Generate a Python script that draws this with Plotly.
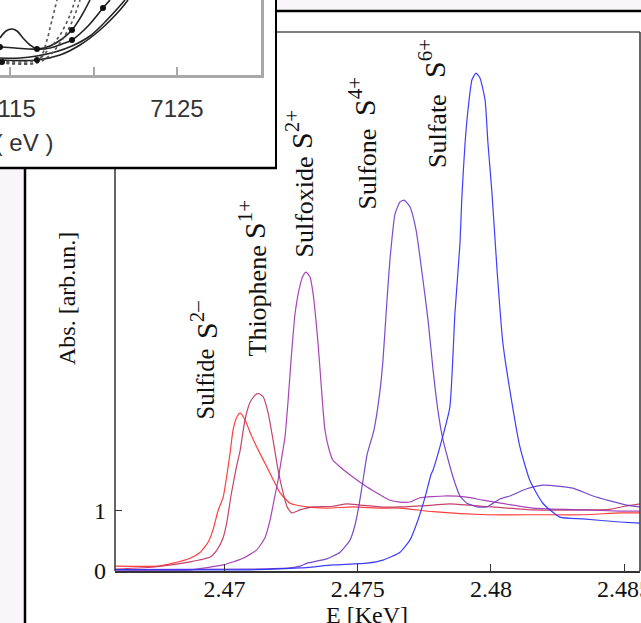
import plotly.graph_objects as go

W, H = 641, 623
def px(x): return x / W
def py(y): return 1 - y / H

# ---------------- main chart data (E in keV, absorbance) ----------------
sulfide_E = [2.46590, 2.46747, 2.46807, 2.46871, 2.46909, 2.46939, 2.46957, 2.46976, 2.46995, 2.47021,
             2.47032, 2.47047, 2.47059, 2.47077, 2.47100, 2.47121, 2.47159, 2.47209, 2.47246, 2.47310,
             2.47384, 2.47483, 2.47584, 2.47659, 2.47783, 2.47985, 2.48184, 2.48346, 2.48484, 2.48559]
sulfide_A = [0.08, 0.08, 0.13, 0.21, 0.31, 0.48, 0.68, 1.00, 1.22, 1.95,
             2.33, 2.55, 2.61, 2.50, 2.25, 2.05, 1.72, 1.29, 1.12, 1.06,
             1.04, 1.06, 1.04, 1.04, 0.98, 0.93, 0.93, 0.93, 0.96, 0.96]

thiophene_E = [2.46590, 2.46747, 2.46871, 2.46946, 2.46972, 2.46995, 2.47009, 2.47025, 2.47044, 2.47059,
               2.47077, 2.47096, 2.47115, 2.47130, 2.47145, 2.47164, 2.47182, 2.47201, 2.47220, 2.47235,
               2.47253, 2.47284, 2.47332, 2.47407, 2.47459, 2.47509, 2.47584, 2.47659, 2.47783, 2.47846,
               2.47970, 2.48158, 2.48346, 2.48447, 2.48503, 2.48559]
thiophene_A = [0.03, 0.07, 0.15, 0.23, 0.35, 0.55, 0.81, 1.26, 1.70, 2.00,
               2.50, 2.79, 2.91, 2.93, 2.88, 2.61, 2.17, 1.67, 1.29, 1.06,
               0.96, 1.01, 1.06, 1.07, 1.11, 1.09, 1.06, 1.06, 1.09, 1.11,
               1.07, 1.01, 1.01, 1.02, 1.07, 1.11]

sulfoxide_E = [2.46590, 2.46871, 2.46995, 2.47070, 2.47121, 2.47152, 2.47171, 2.47186, 2.47201, 2.47213,
               2.47227, 2.47239, 2.47250, 2.47265, 2.47284, 2.47295, 2.47306, 2.47321, 2.47332, 2.47351,
               2.47363, 2.47377, 2.47393, 2.47407, 2.47434, 2.47483, 2.47535, 2.47584, 2.47621, 2.47659,
               2.47696, 2.47734, 2.47828, 2.47910, 2.47970, 2.48158, 2.48346, 2.48484, 2.48559]
sulfoxide_A = [0.02, 0.02, 0.10, 0.21, 0.35, 0.55, 0.84, 1.17, 1.50, 1.83,
               2.21, 2.83, 3.49, 4.26, 4.73, 4.88, 4.94, 4.86, 4.60, 3.77,
               3.07, 2.33, 2.00, 1.83, 1.72, 1.55, 1.39, 1.26, 1.17, 1.14,
               1.14, 1.21, 1.24, 1.22, 1.17, 1.04, 1.01, 0.99, 0.99]

sulfone_E = [2.46590, 2.47096, 2.47246, 2.47284, 2.47310, 2.47384, 2.47434, 2.47471, 2.47490, 2.47505,
             2.47520, 2.47535, 2.47561, 2.47584, 2.47595, 2.47610, 2.47621, 2.47640, 2.47659, 2.47674,
             2.47696, 2.47719, 2.47745, 2.47764, 2.47783, 2.47801, 2.47820, 2.47858, 2.47884, 2.47910,
             2.47948, 2.47985, 2.48034, 2.48071, 2.48135, 2.48195, 2.48259, 2.48308, 2.48383, 2.48447,
             2.48510, 2.48559]
sulfone_A = [0.025, 0.03, 0.05, 0.08, 0.13, 0.20, 0.31, 0.51, 0.76, 1.09,
             1.50, 1.92, 2.33, 2.99, 3.49, 4.48, 5.14, 5.90, 6.10, 6.13,
             6.02, 5.64, 4.81, 4.15, 3.32, 2.66, 2.17, 1.55, 1.24, 1.12,
             1.06, 1.06, 1.19, 1.24, 1.36, 1.42, 1.40, 1.37, 1.24, 1.16,
             1.09, 1.06]

sulfate_E = [2.46590, 2.47096, 2.47284, 2.47407, 2.47535, 2.47595, 2.47659, 2.47696, 2.47726, 2.47753,
             2.47775, 2.47783, 2.47816, 2.47846, 2.47865, 2.47884, 2.47891, 2.47903, 2.47914, 2.47929,
             2.47944, 2.47959, 2.47978, 2.47989, 2.48004, 2.48023, 2.48045, 2.48079, 2.48109, 2.48146,
             2.48195, 2.48259, 2.48346, 2.48484, 2.48559]
sulfate_A = [0.02, 0.02, 0.05, 0.10, 0.13, 0.18, 0.31, 0.51, 0.84, 1.22,
             1.59, 1.67, 2.17, 2.71, 4.26, 5.42, 6.18, 7.07, 7.62, 8.12,
             8.23, 8.15, 7.79, 7.07, 6.25, 4.98, 3.77, 2.78, 2.05, 1.50,
             1.12, 0.89, 0.86, 0.81, 0.79]

series_names = ["Sulfide", "Thiophene", "Sulfoxide", "Sulfone", "Sulfate"]
series_E = [sulfide_E, thiophene_E, sulfoxide_E, sulfone_E, sulfate_E]
series_A = [sulfide_A, thiophene_A, sulfoxide_A, sulfone_A, sulfate_A]
series_colors = ["#ff2a2a", "#c0305c", "#a030b0", "#6a38c8", "#2a2aff"]
label_words = ["Sulfide", "Thiophene", "Sulfoxide", "Sulfone", "Sulfate"]
label_charges = ["2–", "1+", "2+", "4+", "6+"]
x_tickvals = [2.47, 2.475, 2.48, 2.485]
x_ticktext = ["2.47", "2.475", "2.48", "2.485"]
y_tickvals = [0, 1]

# ---------------- inset (Fe K pre-edge) data: E in eV, y arbitrary ----------------
inset_solid = [
    ([7114.401, 7114.760, 7115.120, 7115.419, 7115.778, 7116.198, 7116.617, 7117.395, 7118.114, 7118.713,
      7119.671, 7120.569, 7120.988],
     [37, 44, 46, 44, 37, 30, 26, 27, 31, 35, 49, 67, 75]),
    ([7114.401, 7115.299, 7116.617, 7117.395, 7118.114, 7118.713, 7119.311, 7119.790],
     [28, 27, 26, 29, 36, 45, 60, 75]),
    ([7114.401, 7115.599, 7116.617, 7117.695, 7118.713, 7119.790, 7120.689, 7121.467, 7121.886],
     [17, 17, 19, 23, 29, 39, 53, 67, 75]),
    ([7114.401, 7116.617, 7117.994, 7119.192, 7120.389, 7121.587, 7122.066],
     [15, 15, 20, 30, 45, 65, 75]),
]
inset_dotted = [
    ([7114.401, 7116.617, 7116.916, 7117.216, 7117.515, 7117.814],
     [13, 13, 20, 35, 55, 75]),
    ([7114.401, 7116.617, 7117.395, 7118.114, 7118.713, 7119.192],
     [12, 12, 20, 35, 53, 75]),
    ([7114.401, 7116.617, 7117.275, 7117.994, 7118.593, 7118.892],
     [14, 15, 25, 40, 60, 75]),
]
inset_marker_E = [7114.401, 7116.617, 7116.617, 7118.713, 7118.713, 7120.569, 7114.521]
inset_marker_y = [28, 26, 15, 35, 45, 67, 13]
inset_tickvals = [7115, 7120, 7125]
inset_ticktext = ["7115", " ", "7125"]

fig = go.Figure()

for name, E, A, c in zip(series_names, series_E, series_A, series_colors):
    fig.add_trace(go.Scatter(x=E, y=A, mode="lines", name=name,
                             line=dict(color=c, width=1.2, shape="spline", smoothing=0.5),
                             opacity=0.9, xaxis="x", yaxis="y", showlegend=False))

for E, Y in inset_solid:
    fig.add_trace(go.Scatter(x=E, y=Y, mode="lines", line=dict(color="#222", width=1.6, shape="spline"),
                             xaxis="x2", yaxis="y2", showlegend=False))
for E, Y in inset_dotted:
    fig.add_trace(go.Scatter(x=E, y=Y, mode="lines", line=dict(color="#555", width=1.6, dash="dot", shape="spline"),
                             xaxis="x2", yaxis="y2", showlegend=False))
fig.add_trace(go.Scatter(x=inset_marker_E, y=inset_marker_y, mode="markers",
                         marker=dict(color="#111", size=6), xaxis="x2", yaxis="y2", showlegend=False))

serif = "Liberation Serif"
sans = "Liberation Sans"

fig.update_layout(
    width=W, height=H, margin=dict(l=0, r=0, t=0, b=0, autoexpand=False),
    paper_bgcolor="white", plot_bgcolor="rgba(0,0,0,0)",
    xaxis=dict(domain=[px(115), px(640)], range=[2.46589, 2.485597], anchor="y", automargin=False,
               tickvals=x_tickvals, ticktext=x_ticktext, ticks="inside", ticklen=7, tickwidth=1,
               tickcolor="#333", showline=True, linecolor="#333", linewidth=1.5, mirror=False,
               showgrid=False, zeroline=False, tickfont=dict(family=serif, size=24, color="#111"),
               ticklabelstandoff=-5, ticklabeloverflow="allow"),
    yaxis=dict(domain=[py(571), py(32)], range=[0, 8.909], anchor="x", automargin=False,
               tickvals=y_tickvals, ticks="inside", ticklen=7, tickwidth=1, tickcolor="#333",
               showline=False, showgrid=False, zeroline=False,
               tickfont=dict(family=serif, size=24, color="#111"), ticklabelstandoff=8),
    xaxis2=dict(domain=[0, px(261)], range=[7114.401, 7130.03], anchor="y2", automargin=False,
                tickvals=inset_tickvals, ticktext=inset_ticktext, ticks="inside", ticklen=8, tickwidth=2,
                tickcolor="#a8a8a8", showline=True, linecolor="#a8a8a8", linewidth=2.5,
                showgrid=False, zeroline=False, tickfont=dict(family=sans, size=24, color="#333"),
                ticklabelstandoff=10, ticklabeloverflow="allow"),
    yaxis2=dict(domain=[py(75), 1], range=[0, 75], anchor="x2", side="right", automargin=False,
                showline=True, linecolor="#a8a8a8", linewidth=2.5, ticks="", showticklabels=False,
                showgrid=False, zeroline=False),
)

# rotated species labels: word and "S^charge" placed separately (pixel positions)
word_pos = [(205, 421), (257, 358), (304, 259), (367, 211), (437, 169)]   # x center, bottom y
word_size = [24.5, 26, 26, 26, 26]
ion_pos = [(204, 320), (252, 220), (299, 130), (362, 97), (432, 59)]      # x center, center y
annotations = []
for w, q, (xw, yw), (xi, yi), fs in zip(label_words, label_charges, word_pos, ion_pos, word_size):
    annotations.append(dict(text=w, x=px(xw), y=py(yw), xref="paper", yref="paper", textangle=-90,
                            showarrow=False, xanchor="center", yanchor="bottom", borderpad=0,
                            font=dict(family=serif, size=fs, color="#111")))
    annotations.append(dict(text="S<sup>" + q + "</sup>", x=px(xi), y=py(yi), xref="paper", yref="paper",
                            textangle=-90, showarrow=False, xanchor="center", yanchor="middle", borderpad=0,
                            font=dict(family=serif, size=30, color="#111")))
annotations.append(dict(text="Abs. [arb.un.]", x=px(67), y=py(299), xref="paper", yref="paper",
                        textangle=-90, showarrow=False, xanchor="center", yanchor="middle",
                        font=dict(family=serif, size=24, color="#111")))
annotations.append(dict(text="E [KeV]", x=px(367), y=py(615), xref="paper", yref="paper",
                        showarrow=False, xanchor="center", yanchor="middle",
                        font=dict(family=serif, size=24, color="#111")))
annotations.append(dict(text="Energy ( eV )", x=px(55), y=py(143), xref="paper", yref="paper",
                        showarrow=False, xanchor="right", yanchor="middle",
                        font=dict(family=sans, size=24, color="#333")))
fig.update_layout(annotations=annotations)

gray = "#f8f6f8"
shapes = [
    dict(type="rect", xref="paper", yref="paper", x0=0, x1=px(24), y0=0, y1=py(168),
         fillcolor=gray, line=dict(width=0), layer="below"),
    dict(type="rect", xref="paper", yref="paper", x0=px(276), x1=1, y0=py(10), y1=1,
         fillcolor=gray, line=dict(width=0), layer="below"),
    dict(type="line", xref="paper", yref="paper", x0=px(25), x1=px(25), y0=0, y1=py(167),
         line=dict(color="black", width=2.5)),
    dict(type="line", xref="paper", yref="paper", x0=0, x1=px(277), y0=py(168), y1=py(168),
         line=dict(color="black", width=2.5)),
    dict(type="line", xref="paper", yref="paper", x0=px(276), x1=px(276), y0=py(169), y1=1,
         line=dict(color="black", width=2)),
    dict(type="line", xref="paper", yref="paper", x0=px(276), x1=1, y0=py(11), y1=py(11),
         line=dict(color="black", width=2.5)),
    dict(type="line", xref="paper", yref="paper", x0=px(115), x1=px(115), y0=py(571), y1=py(169),
         line=dict(color="#333", width=1.5)),
    dict(type="line", xref="paper", yref="paper", x0=px(277), x1=px(640), y0=py(32), y1=py(32),
         line=dict(color="#555", width=1.5)),
    dict(type="line", xref="paper", yref="paper", x0=px(640), x1=px(640), y0=py(571), y1=py(32),
         line=dict(color="#333", width=1.5)),
]
fig.update_layout(shapes=shapes)

fig.write_html("out.html")
